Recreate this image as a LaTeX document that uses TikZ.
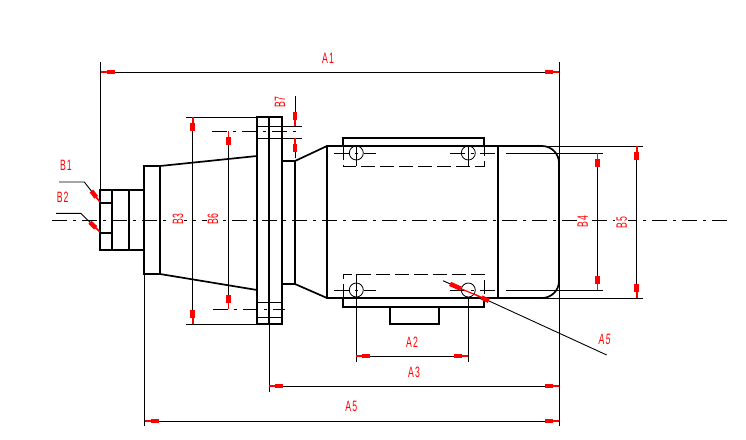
\documentclass[tikz,border=0pt]{standalone}
\usepackage{fontspec}
\setmainfont[LetterSpace=12]{Liberation Sans}
\usetikzlibrary{arrows.meta}
\begin{document}
\begin{tikzpicture}[
                x = 1pt, y = -1pt,
                outl/.style = {line width=1.7pt},
                thinl/.style = {line width=.9pt},
                hid/.style = {line width=.9pt, dash pattern=on 14pt off 5pt},
                axis/.style = {line width=.9pt, dash pattern=on 15pt off 6pt on 3pt off 6pt},
                tipA/.style = {-{Rectangle[red,length=8pt,width=4.5pt]Rectangle[red,fill=red,length=6pt,width=1.6pt]}},
                tipB/.style = {{Rectangle[red,fill=red,length=6pt,width=1.6pt]Rectangle[red,length=8pt,width=4.5pt]}-{Rectangle[red,length=8pt,width=4.5pt]Rectangle[red,fill=red,length=6pt,width=1.6pt]}},
                lab/.style = {text=red, inner sep=0pt, font=\fontsize{15}{15}\selectfont, xscale=.58},
                labv/.style = {text=red, fill=white, inner sep=1pt, font=\fontsize{15}{15}\selectfont, yscale=.58, rotate=90},
                hole/.style = {circle, draw, line width=.8pt, minimum size=14pt, inner sep=0pt}
                    ]
                \useasboundingbox (0,0) rectangle (746,439);
                % body outline
                \draw[outl] (100,190) rectangle (144,250);
                \draw[outl] (112,190) to (112,250);
                \draw[outl] (129,190) to (129,250);
                \draw[outl] (100,203) to (112,203);
                \draw[outl] (100,233) to (112,233);
                \draw[outl] (144,166) rectangle (160,274);
                \draw[outl] (160,166) to (257,156);
                \draw[outl] (160,274) to (257,290);
                \draw[outl] (257,117) rectangle (282,324);
                \draw[outl] (269,117) to (269,324);
                \draw[outl] (282,161) -- (295,161) -- (327,146);
                \draw[outl] (282,284) -- (295,284) -- (327,298);
                \draw[outl] (295,161) to (295,284);
                \draw[outl] (327,146) rectangle (498,298);
                \draw[outl] (498,146) -- (542,146) arc[start angle=-90, end angle=0, radius=17] -- (559,281) arc[start angle=0, end angle=90, radius=17] -- (498,298);
                \draw[outl] (343,146) -- (343,138) -- (484,138) -- (484,146);
                \draw[outl] (343,298) -- (343,307) -- (484,307) -- (484,298);
                \draw[outl] (390,307) rectangle (439,324);
                % hidden lines
                \draw[thinl] (257,126) to (302,126);
                \draw[thinl] (257,138) to (302,138);
                \draw[thinl] (257,302) to (282,302);
                \draw[thinl] (257,317) to (282,317);
                \draw[hid] (343,146) -- (343,166) -- (484,166) -- (484,146);
                \draw[hid] (343,298) -- (343,274) -- (484,274) -- (484,298);
                % holes
                \node[hole] (H1) at (356.3,153) {};
                \node[hole] (H2) at (468.3,153) {};
                \node[hole] (H3) at (356.3,290) {};
                \node[hole] (H4) at (468.3,290) {};
                \draw[thinl] (356.3,146) to (356.3,166);
                \draw[thinl] (468.3,146) to (468.3,166);
                % center lines
                \draw[axis] (52,220) to (730,220);
                \draw[axis] (212,131) to (302,131);
                \draw[axis] (213,309) to (285,309);
                \draw[axis] (334,153) to (376,153);
                \draw[axis] (450,153) to (497,153);
                \draw[axis] (334,290) to (376,290);
                \draw[axis] (450,290) to (497,290);
                % extension lines
                \coordinate (a1l) at (100.5,72);
                \coordinate (a1r) at (559,72);
                \coordinate (a2l) at (356.3,356);
                \coordinate (a2r) at (468.3,356);
                \coordinate (a3l) at (269,386);
                \coordinate (a3r) at (559,386);
                \coordinate (a5l) at (144.5,421);
                \coordinate (a5r) at (559,421);
                \coordinate (b3t) at (192.7,117);
                \coordinate (b3b) at (192.7,324);
                \coordinate (b6t) at (228.3,131);
                \coordinate (b6b) at (228.3,309);
                \coordinate (b4t) at (597.3,153);
                \coordinate (b4b) at (597.3,290);
                \coordinate (b5t) at (636.7,146);
                \coordinate (b5b) at (636.7,298);
                \draw[thinl] (100.5,62) to (100.5,190);
                \draw[thinl] (559,62) to (559,426);
                \draw[thinl] (144.5,274) to (144.5,426);
                \draw[thinl] (269,324) to (269,392);
                \draw[thinl] (356.3,274) to (356.3,362);
                \draw[thinl] (468.3,297) to (468.3,362);
                \draw[thinl] (186,117) to (257,117);
                \draw[thinl] (186,324) to (257,324);
                \draw[thinl] (498,146) to (643,146);
                \draw[thinl] (498,298) to (643,298);
                \draw[thinl] (506,153.3) to (603,153.3);
                \draw[thinl] (506,290) to (603,290);
                % labels
                \node[lab] (A1) at (328,58) {A1};
                \node[lab] (A2) at (412,342) {A2};
                \node[lab] (A3) at (414,372) {A3};
                \node[lab] (A5) at (351.3,406) {A5};
                \node[lab, xslant=.15] (A6) at (604.7,339.3) {A5};
                \node[lab] (B1) at (66,165.7) {B1};
                \node[lab] (B2) at (62.7,197) {B2};
                \node[labv] (B3) at (178,219) {B3};
                \node[labv] (B6) at (213,219) {B6};
                \node[labv, fill=none] (B7) at (280,102) {B7};
                \node[labv] (B4) at (582.7,221.7) {B4};
                \node[labv] (B5) at (621.7,222.7) {B5};
                % dimensions
                \draw[thinl,tipB] (a1l) to (a1r);
                \draw[thinl,tipB] (a2l) to (a2r);
                \draw[thinl,tipB] (a3l) to (a3r);
                \draw[thinl,tipB] (a5l) to (a5r);
                \draw[thinl,tipB] (b3t) to (b3b);
                \draw[thinl,tipB] (b6t) to (b6b);
                \draw[thinl,tipB] (b4t) to (b4b);
                \draw[thinl,tipB] (b5t) to (b5b);
                \coordinate (b7a) at (295,96);
                \coordinate (b7b) at (295,126);
                \coordinate (b7c) at (295,138);
                \coordinate (b7d) at (295,158);
                \draw[thinl,tipA] (b7a) to (b7b);
                \draw[thinl,tipA] (b7d) to (b7c);
                % leaders
                \coordinate (b1e) at (100,202);
                \coordinate (b2e) at (100,232);
                \draw[thinl,tipA] (59,182) -- (84.3,182) -- (b1e);
                \draw[thinl,tipA] (56,213.3) -- (80.7,213.3) -- (b2e);
                \coordinate (ang1) at (443,280.7);
                \coordinate (ang1b) at (461,288.8);
                \coordinate (ang2) at (476,295);
                \coordinate (ang4) at (606.7,355);
                \draw[thinl,{Rectangle[red,length=12pt,width=4.5pt]}-] (ang1b) to (ang1);
                \draw[line width=1.2pt,red] (ang1b) to (ang2);
                \draw[thinl,tipA] (ang4) to (ang2);
            \end{tikzpicture}
\end{document}
